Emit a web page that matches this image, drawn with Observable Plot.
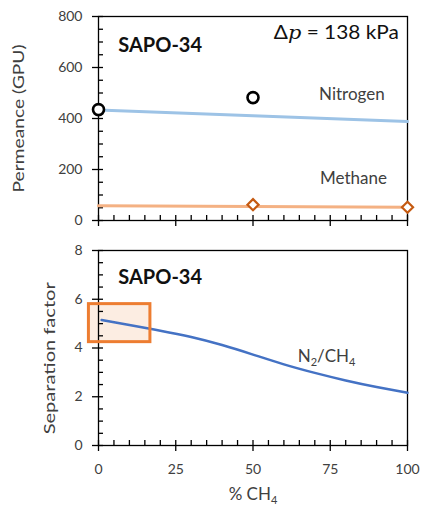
<!DOCTYPE html>
<html><head><meta charset="utf-8">
<script src="https://cdn.jsdelivr.net/npm/d3@7"></script>
<script src="https://cdn.jsdelivr.net/npm/@observablehq/plot@0.6"></script>
<style>
body{margin:0;background:#fff;}
#chart{width:425px;height:511px;overflow:hidden;}
#chart svg{display:block;}
</style></head><body><div id="chart"></div>
<script>
// ---- data ----
const xTicks = [0, 25, 50, 75, 100];
const xMinorTicks = [0,5,10,15,20,25,30,35,40,45,50,55,60,65,70,75,80,85,90,95,100];
const permTicks = [0, 200, 400, 600, 800];
const permMinorTicks = [0,50,100,150,200,250,300,350,400,450,500,550,600,650,700,750,800];
const sfTicks = [0, 2, 4, 6, 8];
const sfMinorTicks = [0,0.5,1,1.5,2,2.5,3,3.5,4,4.5,5,5.5,6,6.5,7,7.5,8];

const n2LineX = [0, 50, 100];
const n2LineY = [433, 411, 388];
const n2PtsX = [0, 50];
const n2PtsY = [435, 482];
const ch4LineX = [0, 50, 100];
const ch4LineY = [58, 55, 52];
const ch4PtsX = [50, 100];
const ch4PtsY = [62, 52];

const sfX = [1, 10, 20, 30, 40, 50, 60, 70, 80, 90, 100];
const sfY = [5.15, 4.94, 4.71, 4.45, 4.12, 3.73, 3.33, 2.98, 2.67, 2.40, 2.16];

const boxX = [-3.1, 16.8];
const boxY = [4.24, 5.80];

const zip = (xs, ys) => xs.map((x, i) => ({x, y: ys[i]}));
const FONT = "Lato, 'Open Sans', sans-serif";
const TXT = "#404040";

function axes(yTicks, yMinor, showXLabels) {
  return [
    Plot.frame({stroke: "#000", strokeWidth: 1.3}),
    Plot.axisY({ticks: yTicks, tickSize: 6, tickPadding: 10, label: null, fontSize: 14, color: TXT, stroke: "#000", strokeWidth: 1.3}),
    Plot.axisY({ticks: yMinor, tickSize: -5, tickFormat: () => "", label: null, stroke: "#000", strokeWidth: 1.3}),
    Plot.axisX({ticks: xTicks, tickSize: 6, tickPadding: 13, label: null, fontSize: 14, color: TXT, stroke: "#000", strokeWidth: 1.3,
      tickFormat: showXLabels ? (d => String(d)) : (() => "")}),
    Plot.axisX({ticks: xMinorTicks, tickSize: -5, tickFormat: () => "", label: null, stroke: "#000", strokeWidth: 1.3})
  ];
}

const topPlot = Plot.plot({
  width: 425, height: 232,
  marginLeft: 98, marginRight: 18, marginTop: 16, marginBottom: 12,
  style: {fontFamily: FONT, background: "#fff", overflow: "visible"},
  x: {domain: [0, 100]},
  y: {domain: [0, 800]},
  marks: [
    ...axes(permTicks, permMinorTicks, false),
    Plot.line(zip(n2LineX, n2LineY), {x: "x", y: "y", stroke: "#9DC3E6", strokeWidth: 3}),
    Plot.line(zip(ch4LineX, ch4LineY), {x: "x", y: "y", stroke: "#F4B183", strokeWidth: 3}),
    Plot.dot(zip(n2PtsX, n2PtsY), {x: "x", y: "y", r: 5.5, stroke: "#000", strokeWidth: 2.6, fill: "#fff", clip: false}),
    Plot.dot(zip(ch4PtsX, ch4PtsY), {x: "x", y: "y", r: 5, symbol: "diamond2", stroke: "#C55A11", strokeWidth: 2.2, fill: "#fff", clip: false}),
    Plot.text(["SAPO-34"], {x: 6.4, y: 685, textAnchor: "start", fontWeight: "bold", fontSize: 20, fill: "#111"}),
    Plot.text(["Δp = 138 kPa"], {x: 97.2, y: 735, textAnchor: "end", fontSize: 19, fill: "#111"}),
    Plot.text(["Nitrogen"], {x: 82, y: 493, fontSize: 17, fill: TXT}),
    Plot.text(["Methane"], {x: 82.5, y: 164, fontSize: 17, fill: TXT}),
    Plot.text(["Permeance (GPU)"], {frameAnchor: "left", y: 110, textAnchor: "start", rotate: -90, dx: -80, fontSize: 16, fill: TXT})
  ]
});

const bottomPlot = Plot.plot({
  width: 425, height: 279,
  marginLeft: 98, marginRight: 18, marginTop: 18, marginBottom: 66,
  style: {fontFamily: FONT, background: "#fff", overflow: "visible"},
  x: {domain: [0, 100]},
  y: {domain: [0, 8]},
  marks: [
    Plot.rect([{x1: boxX[0], x2: boxX[1], y1: boxY[0], y2: boxY[1]}], {x1: "x1", x2: "x2", y1: "y1", y2: "y2", fill: "#FBE5D6", fillOpacity: 0.7}),
    ...axes(sfTicks, sfMinorTicks, true),
    Plot.line(zip(sfX, sfY), {x: "x", y: "y", stroke: "#4472C4", strokeWidth: 2.5, curve: "natural"}),
    Plot.rect([{x1: boxX[0], x2: boxX[1], y1: boxY[0], y2: boxY[1]}], {x1: "x1", x2: "x2", y1: "y1", y2: "y2", fill: "none", stroke: "#ED7D31", strokeWidth: 3}),
    Plot.text(["SAPO-34"], {x: 6.4, y: 6.9, textAnchor: "start", fontWeight: "bold", fontSize: 20, fill: "#111"}),
    Plot.text(["N2/CH4"], {x: 73.8, y: 3.65, fontSize: 17, fill: TXT}),
    Plot.text(["Separation factor"], {frameAnchor: "left", y: 0.46, textAnchor: "start", rotate: -90, dx: -49, fontSize: 16, fill: TXT}),
    Plot.text(["% CH4"], {frameAnchor: "bottom", dy: 54, fontSize: 17, fill: TXT})
  ]
});

const chart = document.getElementById("chart");
chart.append(topPlot, bottomPlot);

// rich text: italic p, subscripts, lengths matched to the reference
d3.selectAll("#chart text").each(function() {
  const t = this.textContent;
  if (t === "Δp = 138 kPa") {
    this.innerHTML = 'Δ<tspan font-family="DejaVu Serif, serif" font-style="italic">p</tspan> = 138 kPa';
    this.setAttribute("textLength", 125);
    this.setAttribute("lengthAdjust", "spacingAndGlyphs");
  } else if (t === "N2/CH4") {
    this.innerHTML = 'N<tspan font-size="11" dy="4">2</tspan><tspan dy="-4">/CH</tspan><tspan font-size="11" dy="4">4</tspan>';
  } else if (t === "% CH4") {
    this.innerHTML = '% CH<tspan font-size="11" dy="4">4</tspan>';
  } else if (t === "Permeance (GPU)") {
    this.setAttribute("textLength", 148);
    this.setAttribute("lengthAdjust", "spacingAndGlyphs");
  } else if (t === "Separation factor") {
    this.setAttribute("textLength", 152);
    this.setAttribute("lengthAdjust", "spacingAndGlyphs");
  }
});
</script>
</body></html>
